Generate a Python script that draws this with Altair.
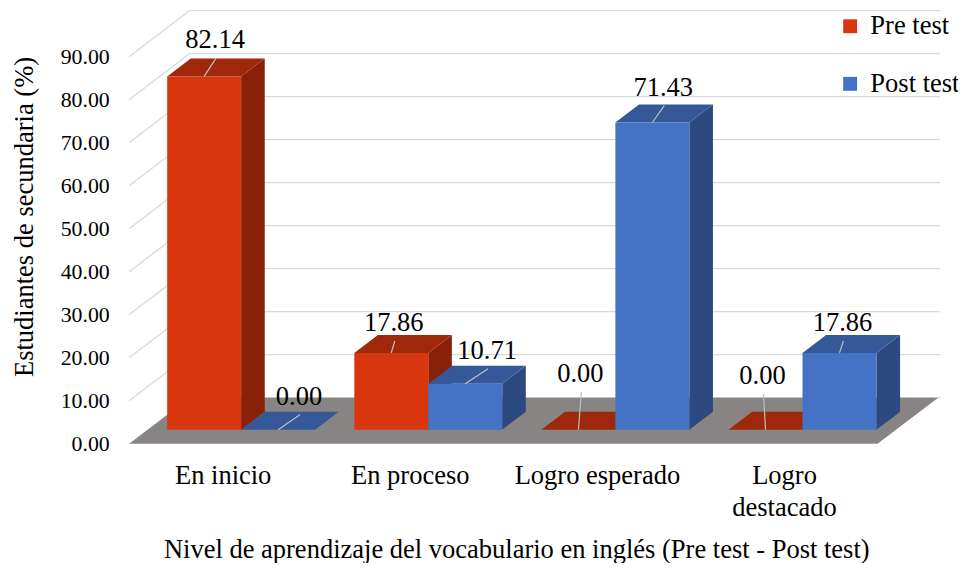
import json
import altair as alt
import pandas as pd

# ---------------- data ----------------
categories = ["En inicio", "En proceso", "Logro esperado", "Logro destacado"]
series_names = ["Pre test", "Post test"]
pre_test = [82.14, 17.86, 0.00, 0.00]
post_test = [0.00, 10.71, 71.43, 17.86]
y_ticks = [0, 10, 20, 30, 40, 50, 60, 70, 80, 90]
x_title = "Nivel de aprendizaje del vocabulario en inglés (Pre test - Post test)"
y_title = "Estudiantes de secundaria (%)"

# ---------------- style / geometry ----------------
FONT = "Liberation Serif"
FS = 26.7
W, H = 819, 437
PX = 4.3333                 # pixels per percentage point
YMAX = H / PX
BAND = 188.5                # width of one category band (px units)
BAR_W = 74.5
DEPTH_X = 61.0              # depth of the floor, horizontal
DEPTH_Y = 46.5 / PX         # depth of the floor, vertical (value units)
F_FRONT, F_BACK = 0.305, 0.695
GRID_END = 817
FRONT = {"Pre test": "#D8360E", "Post test": "#4472C4"}
SIDE = {"Pre test": "#892108", "Post test": "#2C4A80"}
TOP = {"Pre test": "#A0280A", "Post test": "#345898"}
# label offsets (px right, px up) from the front-top centre of each bar
LABEL_SHIFT = [
    [(11, 36.5), (2.5, 30), (2, 56), (-3, 54)],
    [(21, 33), (22, 33), (11, 35), (3, 30)],
]

bdx = (F_BACK - F_FRONT) * DEPTH_X
bdy = (F_BACK - F_FRONT) * DEPTH_Y

front_rows, side_rows, top_rows, label_rows, leader_rows = [], [], [], [], []
for s_idx, (sname, vals) in enumerate(zip(series_names, [pre_test, post_test])):
    for i, (cat, v) in enumerate(zip(categories, vals)):
        xl = BAND * (i + 0.5) - BAR_W + s_idx * BAR_W + F_FRONT * DEPTH_X
        xr = xl + BAR_W
        yb = F_FRONT * DEPTH_Y
        yt = yb + v
        bid = f"{s_idx}-{i}"
        front_rows.append(dict(series=sname, category=cat, value=v, x=xl, x2=xr, y=yb, y2=yt))
        side_rows += [
            dict(id=bid, fill=SIDE[sname], x=xr, y=yt, y2=yb),
            dict(id=bid, fill=SIDE[sname], x=xr + bdx, y=yt + bdy, y2=yb + bdy),
        ]
        top_rows += [
            dict(id=bid, fill=TOP[sname], y=yt, x=xl, x2=xr),
            dict(id=bid, fill=TOP[sname], y=yt + bdy, x=xl + bdx, x2=xr + bdx),
        ]
        ox, oy = LABEL_SHIFT[s_idx][i]
        fx = (xl + xr) / 2
        label_rows.append(dict(x=fx + ox, y=yt + oy / PX, value=v))
        leader_rows.append(dict(x=fx, y=yt, x2=fx + ox + 1, y2=yt + (oy - 18) / PX))

floor_df = pd.DataFrame([
    dict(y=0.0, x=0.0, x2=4 * BAND),
    dict(y=DEPTH_Y, x=DEPTH_X, x2=4 * BAND + DEPTH_X),
])
grid_rows = []
for v in y_ticks[1:]:
    grid_rows.append(dict(x=0.0, y=v, x2=DEPTH_X, y2=v + DEPTH_Y))
for v in y_ticks:
    grid_rows.append(dict(x=DEPTH_X, y=v + DEPTH_Y, x2=GRID_END, y2=v + DEPTH_Y))

front_df = pd.DataFrame(front_rows)
side_df = pd.DataFrame(side_rows)
top_df = pd.DataFrame(top_rows)
label_df = pd.DataFrame(label_rows)
leader_df = pd.DataFrame(leader_rows)
grid_df = pd.DataFrame(grid_rows)

# ---------------- scales & axes ----------------
centers = [BAND * (i + 0.5) for i in range(len(categories))]
expr = None
for i in reversed(range(len(categories))):
    cat = categories[i]
    lab = json.dumps(cat.split(" ")) if cat == "Logro destacado" else json.dumps(cat)
    if expr is None:
        expr = lab
    else:
        expr = f"datum.value < {centers[i] + BAND / 2} ? {lab} : ({expr})"

xscale = alt.Scale(domain=[0, W], nice=False, zero=False)
yscale = alt.Scale(domain=[0, YMAX], nice=False, zero=False)

xaxis = alt.Axis(
    values=centers, labelExpr=expr, ticks=False, domain=False, grid=False,
    labelFont=FONT, labelFontSize=FS, labelColor="black", labelPadding=19,
    labelLineHeight=32, labelOverlap=False, labelFlush=False, labelBound=False,
    title=x_title, titleFont=FONT, titleFontSize=FS, titleFontWeight="normal",
    titleColor="black", titleX=390, titleY=107, titleBaseline="middle",
    titleAlign="center",
)
yaxis = alt.Axis(
    values=y_ticks, format=".2f", ticks=False, domain=False, grid=False,
    labelFont=FONT, labelFontSize=22, labelColor="black", labelPadding=20,
    title=y_title, titleFont=FONT, titleFontSize=FS, titleFontWeight="normal",
    titleColor="black", titleX=-105, titleY=208, titleBaseline="middle",
    titleAlign="center",
)


def X(f):
    return alt.X(f"{f}:Q", scale=xscale, axis=xaxis)


def Y(f):
    return alt.Y(f"{f}:Q", scale=yscale, axis=yaxis)


grid = alt.Chart(grid_df).mark_rule(color="#D9D9D9", strokeWidth=1.3).encode(
    x=X("x"), y=Y("y"), x2="x2:Q", y2="y2:Q"
)
floor = alt.Chart(floor_df).mark_area(orient="horizontal", color="#878483").encode(
    y=Y("y"), x=X("x"), x2="x2:Q"
)
sides = alt.Chart(side_df).mark_area(orient="vertical").encode(
    x=X("x"), y=Y("y"), y2="y2:Q", detail="id:N",
    fill=alt.Fill("fill:N", scale=None),
)
tops = alt.Chart(top_df).mark_area(orient="horizontal").encode(
    y=Y("y"), x=X("x"), x2="x2:Q", detail="id:N",
    fill=alt.Fill("fill:N", scale=None),
)
fronts = alt.Chart(front_df).mark_rect().encode(
    x=X("x"), x2="x2:Q", y=Y("y"), y2="y2:Q",
    color=alt.Color(
        "series:N",
        scale=alt.Scale(domain=series_names, range=[FRONT[s] for s in series_names]),
        legend=alt.Legend(
            title=None, orient="none", legendX=713, legendY=3,
            symbolType="square", symbolSize=196, symbolStrokeWidth=0,
            labelFont=FONT, labelFontSize=FS, labelColor="black",
            labelOffset=7, rowPadding=30, padding=0,
        ),
    ),
)
leaders = alt.Chart(leader_df).mark_rule(color="#BFBFBF", strokeWidth=1.2).encode(
    x=X("x"), y=Y("y"), x2="x2:Q", y2="y2:Q"
)
labels = alt.Chart(label_df).mark_text(
    font=FONT, fontSize=FS, color="black", align="center", baseline="middle"
).encode(x=X("x"), y=Y("y"), text=alt.Text("value:Q", format=".2f"))

chart = (
    alt.layer(grid, floor, sides, tops, fronts, leaders, labels)
    .properties(
        width=W, height=H, background="white",
        padding={"left": 122, "top": 0, "right": 16, "bottom": 118},
        autosize=alt.AutoSizeParams(type="none"),
    )
    .configure_view(stroke=None)
)

chart.save("out.html", embed_options={"renderer": "svg", "actions": False})
